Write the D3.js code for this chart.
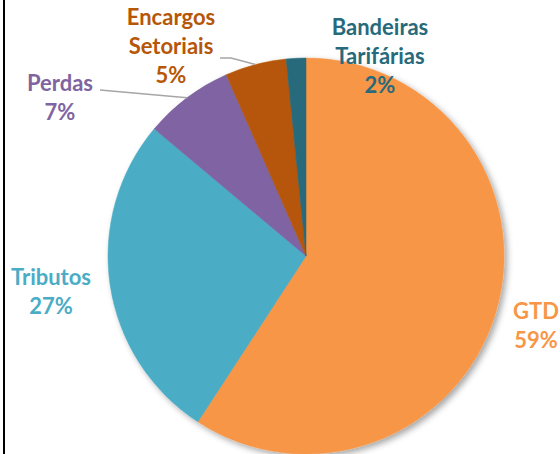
<!DOCTYPE html>
<html>
<head>
<meta charset="utf-8">
<script src="https://cdn.jsdelivr.net/npm/d3@7"></script>
<style>
  html, body { margin: 0; padding: 0; background: #fff; }
  svg { display: block; }
</style>
</head>
<body>
<svg id="chart" width="560" height="454"></svg>
<script>
// slices, clockwise from 12 o'clock
const categories = ["GTD", "Tributos", "Perdas", "Encargos Setoriais", "Bandeiras Tarifárias"];
const values = [59.2, 26.9, 7.3, 5.0, 1.6];
const colors = ["#F79646", "#4BACC6", "#8064A2", "#B65708", "#276A7C"];

// label anchor (centre x, first baseline) and optional leader start
const labelPos = {
    "GTD": { x: 536, y: 319 },
    "Tributos": { x: 51, y: 285 },
    "Perdas": { x: 60, y: 91, line: [[100, 90]] },
    "Encargos Setoriais": { x: 171, y: 25, line: [[220, 58], [231, 58]] },
    "Bandeiras Tarifárias": { x: 380, y: 35 }
};

const svg = d3.select("#chart");
const cx = 306, cy = 256, radius = 198;

const defs = svg.append("defs");
const f = defs.append("filter")
    .attr("id", "shadow")
    .attr("x", "-10%").attr("y", "-10%")
    .attr("width", "130%").attr("height", "130%");
f.append("feDropShadow")
    .attr("dx", 3).attr("dy", 3)
    .attr("stdDeviation", 3)
    .attr("flood-color", "#000")
    .attr("flood-opacity", 0.35);

// left border of the frame
svg.append("line")
    .attr("x1", 4).attr("x2", 4)
    .attr("y1", 0).attr("y2", 454)
    .attr("stroke", "#000")
    .attr("stroke-width", 2);

const data = categories.map((c, i) => ({ name: c, value: values[i], color: colors[i] }));

const pie = d3.pie()
    .value(d => d.value)
    .sort(null);

const arc = d3.arc().innerRadius(0).outerRadius(radius);
const edge = d3.arc().innerRadius(radius).outerRadius(radius);

const g = svg.append("g")
    .attr("transform", `translate(${cx},${cy})`);

const arcs = pie(data);

g.append("g")
    .attr("filter", "url(#shadow)")
    .selectAll("path")
    .data(arcs)
    .join("path")
    .attr("d", arc)
    .attr("fill", d => d.data.color)
    .attr("stroke", d => d.data.color)
    .attr("stroke-width", 0.5);

// leader lines
arcs.forEach(a => {
    const p = labelPos[a.data.name];
    if (!p.line) return;
    const end = edge.centroid(a);
    const pts = p.line.concat([[end[0] + cx, end[1] + cy]]);
    svg.append("path")
        .attr("d", d3.line()(pts))
        .attr("fill", "none")
        .attr("stroke", "#A6A6A6")
        .attr("stroke-width", 1.5);
});

// labels
const fmt = d3.format(".0f");
arcs.forEach(a => {
    const p = labelPos[a.data.name];
    const lines = a.data.name.split(" ").concat([fmt(a.data.value) + "%"]);
    const t = svg.append("text")
        .attr("x", p.x)
        .attr("y", p.y)
        .attr("text-anchor", "middle")
        .style("font-family", "Lato, 'Open Sans', sans-serif")
        .style("font-weight", "bold")
        .style("font-size", "22px")
        .attr("fill", a.data.color);
    lines.forEach((l, i) => {
        t.append("tspan")
            .attr("x", p.x)
            .attr("dy", i === 0 ? 0 : 29)
            .text(l);
    });
});
</script>
</body>
</html>
